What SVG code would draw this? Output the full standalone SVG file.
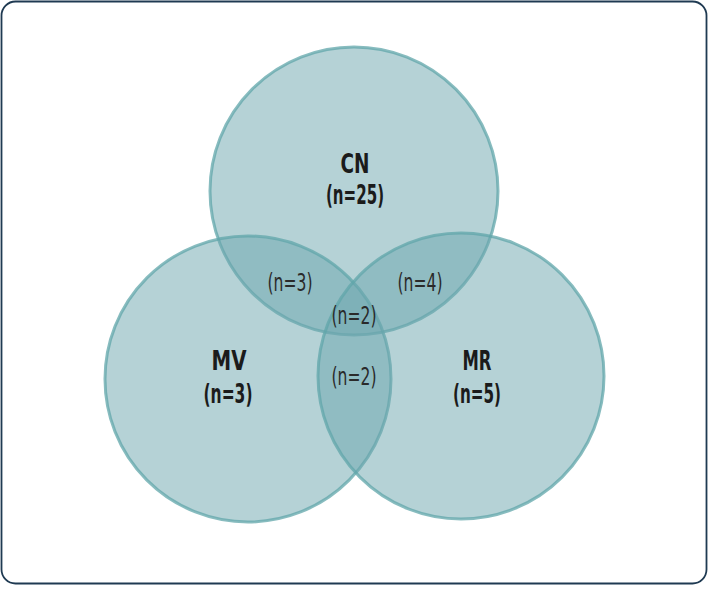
<svg xmlns="http://www.w3.org/2000/svg" width="709" height="589" viewBox="0 0 709 589">
<style>
.c{fill:rgb(108,165,174);fill-opacity:0.5;stroke:rgb(96,166,170);stroke-opacity:0.75;stroke-width:3}
.b{font-family:"DejaVu Sans Condensed","DejaVu Sans",sans-serif;font-weight:bold;font-size:26px;fill:#1b1b1b;text-anchor:middle}
.l{font-family:"DejaVu Sans Condensed","DejaVu Sans",sans-serif;font-weight:200;font-size:24px;fill:#2a2a2a;text-anchor:middle}
</style>
<rect x="1.5" y="1.5" width="705" height="582" rx="14" fill="#fff" stroke="#1f3a52" stroke-width="1.8"/>
<g id="CN"><circle class="c" cx="354" cy="191" r="144"/></g>
<g id="MV"><circle class="c" cx="248" cy="379" r="143"/></g>
<g id="MR"><circle class="c" cx="461" cy="376" r="143"/></g>
<g id="connectors"></g>
<g id="labels">
<text class="b" x="355" y="173" textLength="29" lengthAdjust="spacingAndGlyphs">CN</text>
<text class="b" x="355" y="204" textLength="58" lengthAdjust="spacingAndGlyphs">(n=25)</text>
<text class="b" x="229" y="370" textLength="35" lengthAdjust="spacingAndGlyphs">MV</text>
<text class="b" x="228" y="403" textLength="49" lengthAdjust="spacingAndGlyphs">(n=3)</text>
<text class="b" x="477" y="370" textLength="29" lengthAdjust="spacingAndGlyphs">MR</text>
<text class="b" x="477" y="403" textLength="48" lengthAdjust="spacingAndGlyphs">(n=5)</text>
<text class="l" x="290" y="291" textLength="45" lengthAdjust="spacingAndGlyphs">(n=3)</text>
<text class="l" x="420" y="291" textLength="45" lengthAdjust="spacingAndGlyphs">(n=4)</text>
<text class="l" x="354" y="324" textLength="45" lengthAdjust="spacingAndGlyphs">(n=2)</text>
<text class="l" x="354" y="385" textLength="45" lengthAdjust="spacingAndGlyphs">(n=2)</text>
</g>
</svg>
